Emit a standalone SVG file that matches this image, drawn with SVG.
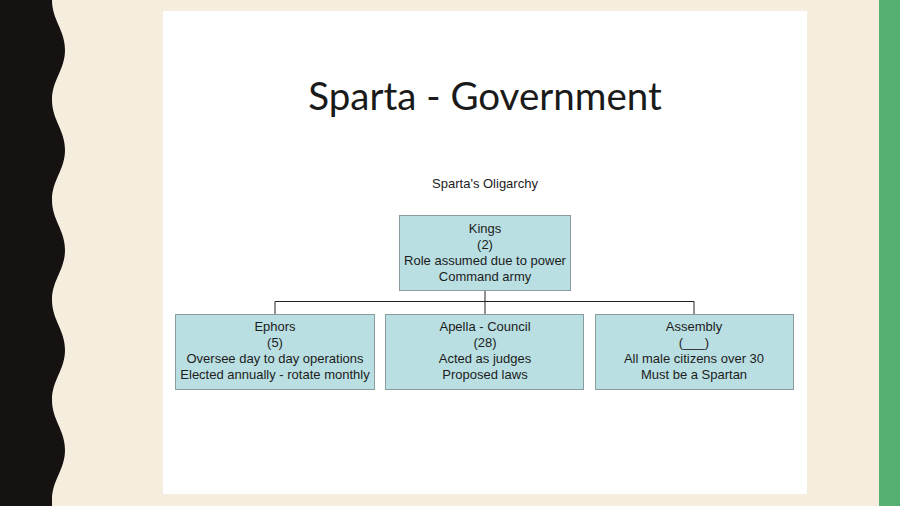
<svg xmlns="http://www.w3.org/2000/svg" width="900" height="506" viewBox="0 0 900 506">
<defs>
<style>
.box{fill:#b9dfe2;stroke:#8c9c9e;stroke-width:1}
.t{font-family:"Liberation Sans",Arial,sans-serif;font-size:13px;fill:#1c1c1c;text-anchor:middle}
.conn{fill:none;stroke:#222;stroke-width:1}
</style>
</defs>
<rect width="900" height="506" fill="#f5eedf"/>
<rect x="879" y="0" width="21" height="506" fill="#55b072"/>
<path d="M0,0 L52,0 C52,20 65,30 65,50 C65,70 52,80 52,100 C52,120 65,130 65,150 C65,170 52,180 52,200 C52,220 65,230 65,250 C65,270 52,280 52,300 C52,320 65,330 65,350 C65,370 52,380 52,400 C52,420 65,430 65,450 C65,470 52,480 52,500 L52,506 L0,506 Z" fill="#161211"/>
<rect x="163" y="11" width="644" height="483" fill="#ffffff"/>
<text x="485" y="110" font-family="Lato,'Open Sans',sans-serif" font-size="38.5" fill="#1a1a1a" text-anchor="middle">Sparta - Government</text>
<text class="t" x="485" y="188">Sparta's Oligarchy</text>
<g id="connectors">
<path class="conn" d="M485,291 V301.5 M275,314 V301.5 H694 V314 M485,301.5 V314"/>
</g>
<g id="kings">
<rect class="box" x="399.5" y="215.5" width="171" height="75"/>
<text class="t" x="485" y="233">Kings</text>
<text class="t" x="485" y="249">(2)</text>
<text class="t" x="485" y="265">Role assumed due to power</text>
<text class="t" x="485" y="281">Command army</text>
</g>
<g id="ephors">
<rect class="box" x="175.5" y="314.5" width="199" height="75"/>
<text class="t" x="275" y="331">Ephors</text>
<text class="t" x="275" y="347">(5)</text>
<text class="t" x="275" y="363">Oversee day to day operations</text>
<text class="t" x="275" y="379">Elected annually - rotate monthly</text>
</g>
<g id="apella">
<rect class="box" x="385.5" y="314.5" width="198" height="75"/>
<text class="t" x="485" y="331">Apella - Council</text>
<text class="t" x="485" y="347">(28)</text>
<text class="t" x="485" y="363">Acted as judges</text>
<text class="t" x="485" y="379">Proposed laws</text>
</g>
<g id="assembly">
<rect class="box" x="595.5" y="314.5" width="198" height="75"/>
<text class="t" x="694" y="331">Assembly</text>
<text class="t" x="694" y="347">(___)</text>
<text class="t" x="694" y="363">All male citizens over 30</text>
<text class="t" x="694" y="379">Must be a Spartan</text>
</g>
</svg>
